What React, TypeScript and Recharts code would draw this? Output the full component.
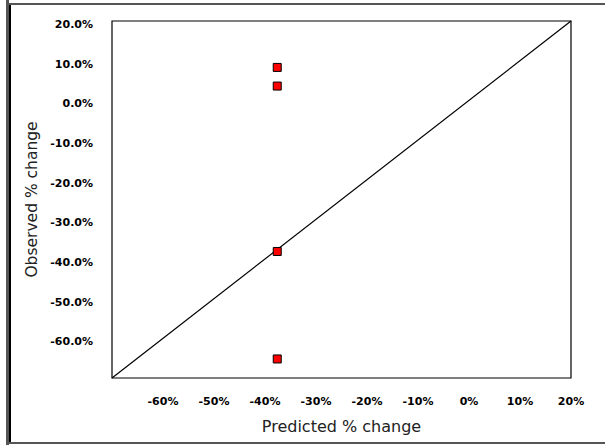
import {
  ScatterChart,
  Scatter,
  XAxis,
  YAxis,
  ReferenceArea,
  ReferenceLine,
  Label,
} from "recharts";

const predicted = [-37.6, -37.6, -37.6, -37.6];
const observed = [8.3, 3.6, -38.1, -65.2];

const xTicks = [-60, -50, -40, -30, -20, -10, 0, 10, 20];
const yTicks = [-60, -50, -40, -30, -20, -10, 0, 10, 20];
const axisDomain = [-70, 20];

const identityLine = [
  { x: -70, y: -70 },
  { x: 20, y: 20 },
];

const points = predicted.map((p, i) => ({ x: p, y: observed[i] }));

const tickStyle = {
  fontSize: 11,
  fontWeight: 700,
  fill: "#000",
  fontFamily: "DejaVu Sans",
};

export default function App() {
  return (
    <div
      style={{
        position: "absolute",
        left: 0,
        top: 0,
        width: 605,
        height: 445,
        background: "#fff",
        overflow: "hidden",
      }}
    >
      {/* outer frame */}
      <div style={{ position: "absolute", left: 6, top: 0, width: 3, height: 445, background: "#555" }} />
      <div style={{ position: "absolute", left: 9, top: 3, width: 2, height: 441, background: "#000" }} />
      <div style={{ position: "absolute", left: 9, top: 3, width: 596, height: 2, background: "#555" }} />
      <div style={{ position: "absolute", left: 9, top: 442, width: 596, height: 2, background: "#555" }} />

      <div style={{ position: "absolute", left: 0, top: 0 }}>
        <ScatterChart
          width={605}
          height={445}
          margin={{ top: 21, right: 34, bottom: 7, left: 0 }}
        >
          <XAxis
            type="number"
            dataKey="x"
            domain={axisDomain}
            ticks={xTicks}
            tickFormatter={(v: number) => `${v}%`}
            tick={tickStyle}
            axisLine={false}
            tickLine={false}
            tickSize={0}
            tickMargin={19}
            height={60}
            interval={0}
          >
            <Label
              value="Predicted % change"
              position="insideBottom"
              offset={6}
              style={{ fontSize: 16, fill: "#222", fontFamily: "DejaVu Sans" }}
            />
          </XAxis>
          <YAxis
            type="number"
            dataKey="y"
            domain={axisDomain}
            ticks={yTicks}
            tickFormatter={(v: number) => `${v.toFixed(1)}%`}
            tick={{ ...tickStyle, dy: 3 }}
            axisLine={false}
            tickLine={false}
            tickSize={0}
            tickMargin={19}
            width={112}
            interval={0}
          >
            <Label
              value="Observed % change"
              angle={-90}
              position="insideLeft"
              offset={31}
              style={{
                fontSize: 15.5,
                fill: "#222",
                fontFamily: "DejaVu Sans",
                textAnchor: "middle",
              }}
            />
          </YAxis>
          <ReferenceArea
            x1={-70}
            x2={20}
            y1={-70}
            y2={20}
            fill="none"
            stroke="#000"
            strokeWidth={1.2}
            fillOpacity={0}
          />
          <ReferenceLine segment={identityLine} stroke="#000" strokeWidth={1.2} />
          <Scatter
            data={points}
            shape="square"
            fill="#FF0000"
            stroke="#000"
            strokeWidth={1}
            isAnimationActive={false}
          />
        </ScatterChart>
      </div>
    </div>
  );
}
